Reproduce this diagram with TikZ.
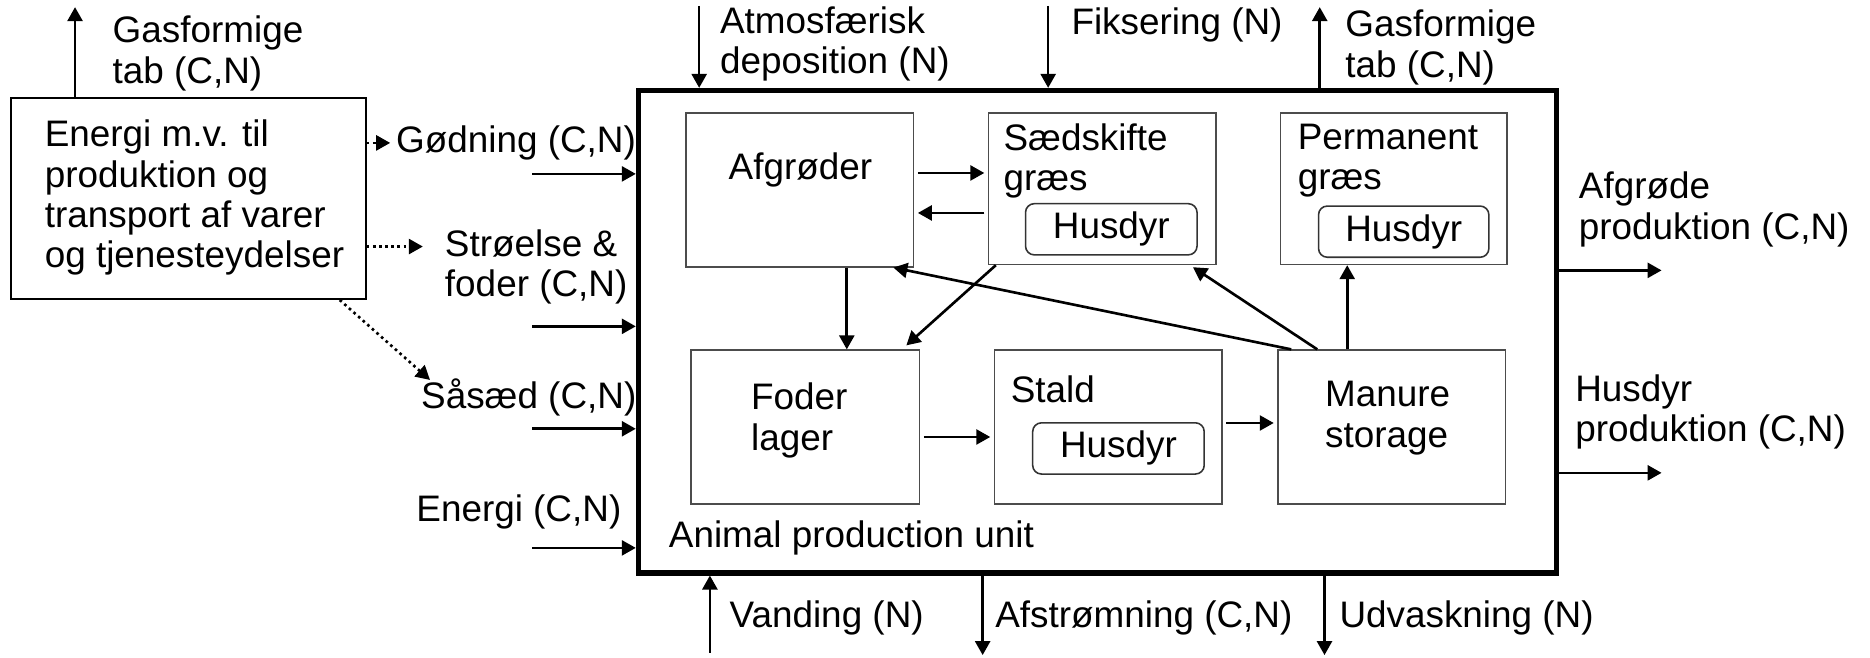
\documentclass[tikz,border=0pt]{standalone}
\usepackage{fontspec}
\setmainfont{Liberation Sans}
\usetikzlibrary{fit}
\usetikzlibrary{arrows.meta}
\tikzstyle{flow}=[-{Triangle[length=1.4mm,width=1.5mm]},line width=0.75pt]
\tikzstyle{dotflow}=[flow,densely dotted]
\tikzstyle{unitbox}=[draw,line width=1.5pt,inner sep=0pt]
\tikzstyle{pool}=[draw=black!70,line width=0.45pt,inner sep=0pt]
\tikzstyle{herd}=[draw=black!80,line width=0.45pt,rounded corners=2.5pt,inner sep=0pt]
\tikzstyle{txt}=[inner sep=0pt,align=left,anchor=west]
\newcommand{\drawherd}[3]{
  \node[herd,fit={#2 #3}] (#1) {};
  \node[inner sep=0pt] (#1txt) at (#1.center) {Husdyr};
}

\begin{document}
\begin{tikzpicture}[x=0.01191cm,y=-0.01191cm,font=\fontsize{10.5}{11.5}\selectfont]
  \useasboundingbox (0,0) rectangle (1570,552);

  % energy and goods from outside
  \node[pool,draw=black,line width=0.6pt,fit={(9,82) (307,251)}] (energi) {};
  \node[txt] (energitxt) at (37,166) {Energi m.v. til\\produktion og\\transport af varer\\og tjenesteydelser};
  \coordinate (gasL) at (63,6);
  \draw[flow] (energi.north -| gasL) -- (gasL);
  \node[txt] (gasLtxt) at (94,45) {Gasformige\\tab (C,N)};

  % the unit
  \node[unitbox,fit={(536,76) (1307,481)}] (unit) {};
  \node[txt] (unittxt) at (561,452) {Animal production unit};

  % inputs from the left
  \node[txt] (goedning) at (332,120) {Gødning (C,N)};
  \node[txt] (stroelse) at (373,224) {Strøelse \&\\foder (C,N)};
  \node[txt] (saasaed) at (353,334) {Såsæd (C,N)};
  \node[txt] (energiin) at (349,430) {Energi (C,N)};
  \foreach \name/\y in {inG/146,inS/274,inSa/360,inE/460}{
    \coordinate (\name) at (447,\y);
    \draw[flow] (\name) -- (\name -| unit.west);
  }
  \coordinate (strA) at (355,207);
  \coordinate (saaA) at (361,319);
  \draw[dotflow,shorten >=1.5pt] (energi.east |- goedning.west) -- (goedning.west);
  \draw[dotflow] (energi.east |- strA) -- (strA);
  \draw[dotflow] ([xshift=-0.27cm]energi.south east) -- (saaA);

  % top
  \coordinate (atmo) at (587,5);
  \coordinate (fiks) at (880,5);
  \coordinate (gasR) at (1108,6);
  \draw[flow] (atmo) -- (atmo |- unit.north);
  \draw[flow] (fiks) -- (fiks |- unit.north);
  \draw[flow] (gasR |- unit.north) -- (gasR);
  \node[txt] (atmotxt) at (604,37) {Atmosfærisk\\deposition (N)};
  \node[txt] (fikstxt) at (899,21) {Fiksering (N)};
  \node[txt] (gasRtxt) at (1129,40) {Gasformige\\tab (C,N)};

  % bottom
  \coordinate (vand) at (596,548);
  \coordinate (afstr) at (825,550);
  \coordinate (udv) at (1112,550);
  \draw[flow] (vand) -- (vand |- unit.south);
  \draw[flow] (afstr |- unit.south) -- (afstr);
  \draw[flow] (udv |- unit.south) -- (udv);
  \node[txt] (vandtxt) at (612,519) {Vanding (N)};
  \node[txt] (afstrtxt) at (835,519) {Afstrømning (C,N)};
  \node[txt] (udvtxt) at (1124,519) {Udvaskning (N)};

  % outputs to the right
  \coordinate (outA) at (1395,227);
  \coordinate (outH) at (1395,397);
  \draw[flow] (outA -| unit.east) -- (outA);
  \draw[flow] (outH -| unit.east) -- (outH);
  \node[txt] (outAtxt) at (1325,176) {Afgrøde\\produktion (C,N)};
  \node[txt] (outHtxt) at (1322,346) {Husdyr\\produktion (C,N)};

  % pools inside the unit
  \node[pool,fit={(576,95) (767,224)}] (afgroeder) {};
  \node[inner sep=0pt] (afgroedertxt) at (672,143) {Afgrøder};
  \node[pool,fit={(830,95) (1021,222)}] (saedskifte) {};
  \node[txt] (saedskiftetxt) at (842,135) {Sædskifte\\græs};
  \drawherd{herdS}{(861,171)}{(1005,214)}
  \node[pool,fit={(1075,95) (1265,222)}] (permanent) {};
  \node[txt] (permanenttxt) at (1089,135) {Permanent\\græs};
  \drawherd{herdP}{(1107,173)}{(1250,216)}
  \node[pool,fit={(580,294) (772,423)}] (foder) {};
  \node[txt] (fodertxt) at (630,353) {Foder\\lager};
  \node[pool,fit={(835,294) (1026,423)}] (stald) {};
  \node[txt] (staldtxt) at (848,327) {Stald};
  \drawherd{herdT}{(867,355)}{(1011,398)}
  \node[pool,fit={(1073,294) (1264,423)}] (manure) {};
  \node[txt] (manuretxt) at (1112,351) {Manure\\storage};

  % flows inside
  \draw[flow,shorten <=1pt,shorten >=1pt] ([yshift=0.17cm]afgroeder.east) -- ([yshift=0.17cm]afgroeder.east -| saedskifte.west);
  \draw[flow,shorten <=1pt,shorten >=1pt] ([yshift=-0.23cm]afgroeder.east -| saedskifte.west) -- ([yshift=-0.23cm]afgroeder.east);
  \draw[flow] ([xshift=0.47cm]afgroeder.south) -- ([xshift=0.47cm]afgroeder.south |- foder.north);
  \draw[flow] ([xshift=0.08cm]saedskifte.south west) -- ([xshift=-0.14cm,yshift=0.04cm]foder.north east);
  \draw[flow] ([xshift=0.14cm]manure.north west) -- ([xshift=-0.21cm]afgroeder.south east);
  \draw[flow] ([xshift=0.4cm]manure.north west) -- ([xshift=-0.24cm,yshift=-0.02cm]saedskifte.south east);
  \draw[flow] ([xshift=0.70cm]manure.north west) -- ([xshift=0.70cm]manure.north west |- permanent.south);
  \draw[flow,shorten <=1pt,shorten >=1pt] ([yshift=-0.10cm]foder.east) -- ([yshift=-0.10cm]foder.east -| stald.west);
  \draw[flow,shorten <=1pt,shorten >=1pt] ([yshift=0.04cm]stald.east) -- ([yshift=0.04cm]stald.east -| manure.west);
\end{tikzpicture}
\end{document}
